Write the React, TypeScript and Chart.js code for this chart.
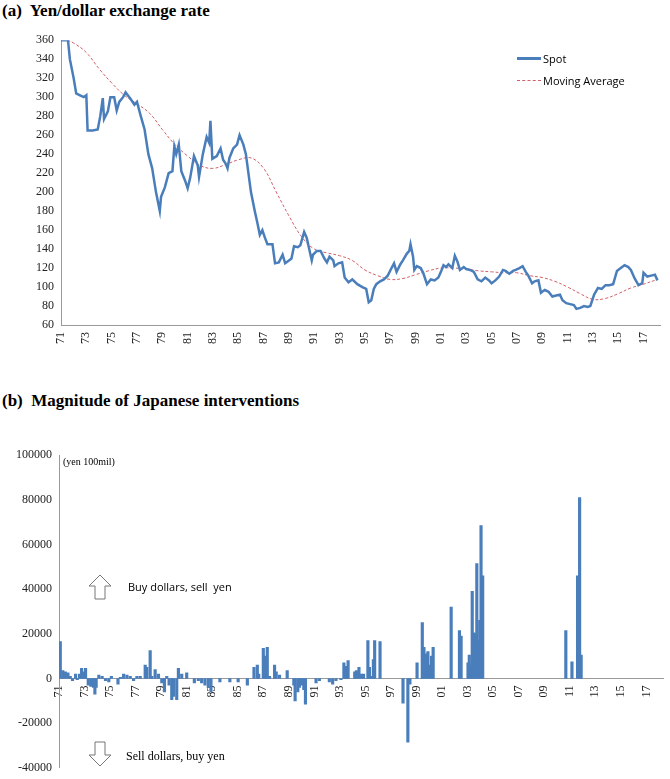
import React, { useEffect, useRef } from "react";
import { Chart, registerables } from "chart.js";
Chart.register(...registerables);

const tickYears = [1971,1973,1975,1977,1979,1981,1983,1985,1987,1989,1991,1993,1995,1997,1999,2001,2003,2005,2007,2009,2011,2013,2015,2017];

const spotYears = [1971.0,1971.55,1971.7,1972.0,1972.2,1972.5,1972.8,1973.0,1973.1,1973.5,1973.9,1974.1,1974.3,1974.4,1974.7,1974.9,1975.2,1975.4,1975.6,1975.9,1976.1,1976.5,1976.8,1977.0,1977.3,1977.6,1977.9,1978.2,1978.5,1978.8,1978.9,1979.2,1979.5,1979.8,1979.95,1980.1,1980.3,1980.5,1980.8,1981.0,1981.2,1981.5,1981.8,1981.9,1982.2,1982.5,1982.7,1982.8,1982.95,1983.3,1983.6,1983.8,1984.0,1984.15,1984.3,1984.6,1984.9,1985.1,1985.4,1985.6,1985.8,1986.0,1986.3,1986.5,1986.7,1986.9,1987.1,1987.3,1987.5,1987.7,1987.9,1988.2,1988.5,1988.7,1989.0,1989.2,1989.4,1989.7,1989.9,1990.2,1990.4,1990.6,1990.8,1990.9,1991.2,1991.5,1991.8,1992.0,1992.2,1992.5,1992.6,1992.9,1993.2,1993.4,1993.7,1994.0,1994.4,1994.8,1995.1,1995.3,1995.5,1995.7,1995.9,1996.2,1996.5,1996.8,1997.1,1997.3,1997.5,1997.8,1998.0,1998.3,1998.5,1998.6,1998.8,1998.9,1999.1,1999.4,1999.6,1999.9,2000.2,2000.5,2000.8,2001.0,2001.2,2001.4,2001.6,2001.9,2002.1,2002.3,2002.5,2002.8,2003.0,2003.3,2003.6,2003.9,2004.2,2004.5,2004.8,2005.0,2005.3,2005.6,2005.9,2006.1,2006.4,2006.7,2006.9,2007.2,2007.45,2007.7,2007.9,2008.2,2008.4,2008.7,2008.9,2009.2,2009.5,2009.8,2010.1,2010.4,2010.6,2010.9,2011.2,2011.5,2011.7,2012.0,2012.3,2012.6,2012.8,2013.1,2013.4,2013.7,2014.0,2014.3,2014.6,2014.9,2015.2,2015.5,2015.8,2016.0,2016.3,2016.6,2016.9,2017.0,2017.3,2017.6,2017.9,2018.1];
const spotValues = [360,360,340,320,304,302,300,302,265,265,266,280,299,277,285,300,300,286,295,300,305,298,292,295,280,266,240,225,200,180,195,205,220,222,248,240,250,222,212,204,215,238,228,216,240,258,252,275,235,238,246,234,230,225,236,246,250,260,250,240,220,200,180,168,155,160,152,145,145,145,125,126,134,125,128,130,143,142,144,158,152,140,128,134,138,138,130,126,132,128,122,125,126,110,105,108,103,100,98,84,86,98,103,106,108,112,120,125,116,124,128,135,138,145,132,118,122,120,115,103,108,107,110,116,123,121,124,120,133,127,118,121,119,118,116,108,106,110,107,104,107,111,118,117,114,117,118,120,122,116,112,104,106,107,94,97,95,90,91,92,86,83,82,81,77,78,80,79,80,92,99,98,102,102,103,117,120,123,121,118,109,102,104,115,111,112,113,107];

const maYears = [1971.5,1972,1973,1974,1975,1976,1977,1978,1979,1980,1981,1982,1983,1984,1985,1986,1987,1988,1989,1990,1991,1992,1993,1994,1995,1996,1997,1998,1999,2000,2001,2002,2003,2004,2005,2006,2007,2008,2009,2010,2011,2012,2013,2014,2015,2016,2017,2018.1];
const maValues = [360,357,347,330,315,302,293,283,266,250,238,228,225,229,234,236,225,200,175,153,140,136,133,128,118,112,108,109,113,117,120,120,119,117,116,115,115,112,110,106,100,93,87,88,93,99,103,108];

const barYears = [1971.1,1971.3,1971.5,1971.7,1971.88,1972.06,1972.3,1972.43,1972.61,1972.77,1972.95,1973.08,1973.29,1973.49,1973.7,1973.81,1973.91,1974.12,1974.38,1974.64,1974.9,1975.1,1975.62,1975.81,1976.06,1976.32,1976.58,1976.84,1977.1,1977.36,1977.75,1977.88,1978.14,1978.27,1978.53,1978.79,1979.05,1979.26,1979.44,1979.62,1979.83,1979.96,1980.22,1980.35,1980.61,1981.0,1981.6,1981.91,1982.17,1982.43,1982.69,1982.9,1983.6,1984.38,1985.03,1985.75,1986.27,1986.53,1986.64,1987.0,1987.16,1987.31,1987.49,1987.88,1988.01,1988.27,1988.87,1989.39,1989.49,1989.7,1989.83,1990.01,1990.17,1990.3,1991.13,1991.39,1992.17,1992.43,1992.69,1993.08,1993.31,1993.46,1993.64,1994.16,1994.29,1994.49,1994.67,1994.85,1995.19,1995.31,1995.5,1995.62,1995.72,1996.14,1997.94,1998.32,1998.48,1999.04,1999.45,1999.58,1999.74,1999.89,2000.04,2000.17,2000.3,2001.71,2002.36,2002.49,2003.03,2003.13,2003.23,2003.36,2003.49,2003.64,2003.72,2003.85,2003.95,2004.05,2004.18,2010.69,2011.17,2011.61,2011.77,2011.89];
const barValues = [16500,3500,3000,2500,1000,-1000,2000,-500,2000,4500,3000,4500,-3000,-3500,-4000,-7000,-4000,1500,1000,-1000,-1500,1000,-2500,500,2000,1500,1000,-1000,1000,1000,6000,5000,12500,1000,4000,2000,-2000,-6000,1000,-3000,-9500,-8000,-9500,4500,2000,2500,-2000,-1000,-2000,-3000,-4000,-6000,-1500,-1500,-1500,-3000,5000,6000,2000,13500,10000,14000,1000,6000,3000,1500,3500,-3000,-10000,-6000,-4000,-3000,-5000,-11500,-2000,-1000,-1500,-2500,-1000,-500,7000,5500,8000,3000,3500,5000,2000,2000,17000,5000,1000,8500,17000,16500,-11000,-28500,-2500,7000,25000,14000,11000,12000,6000,10000,14000,32000,21500,19000,7000,10500,6000,39000,20500,20000,51500,17000,26000,68500,46000,21500,7500,46000,81000,10500];

const serif = "'Liberation Serif', 'Times New Roman', serif";
const sans = "'Open Sans', 'Liberation Sans', sans-serif";
const BLUE = "#4a7ebb";

function xScale(extra: any) {
  return {
    type: "linear",
    min: 1971,
    max: 2018.3,
    grid: { display: false, drawTicks: true, tickLength: 4, color: "#999" },
    border: { color: "#999" },
    afterBuildTicks: (s: any) => { s.ticks = tickYears.map((v) => ({ value: v })); },
    ticks: {
      autoSkip: false,
      maxRotation: 90,
      minRotation: 90,
      color: "#222",
      font: { family: serif, size: 12 },
      callback: (v: any) => String(Math.round(v) % 100).padStart(2, "0"),
    },
    ...extra,
  };
}

export default function App() {
  const topRef = useRef<HTMLCanvasElement>(null);
  const botRef = useRef<HTMLCanvasElement>(null);
  useEffect(() => {
    document.body.style.margin = "0";
    const top = new Chart(topRef.current!, {
      type: "line",
      data: {
        datasets: [
          { label: "Spot", data: spotYears.map((x, i) => ({ x, y: spotValues[i] })), borderColor: BLUE, borderWidth: 2.5, pointRadius: 0, tension: 0 },
          { label: "Moving Average", data: maYears.map((x, i) => ({ x, y: maValues[i] })), borderColor: "#d0606a", borderWidth: 1, borderDash: [3, 2], pointRadius: 0, tension: 0.4 },
        ],
      },
      options: {
        animation: false, responsive: false, maintainAspectRatio: false,
        layout: { padding: { top: 9, right: 10, left: 0, bottom: 0 } },
        plugins: { legend: { display: false }, tooltip: { enabled: false } },
        scales: {
          x: xScale({ afterFit: (s: any) => { s.height = 25; } }),
          y: {
            min: 60, max: 360,
            afterFit: (s: any) => { s.width = 61; },
            grid: { display: false, drawTicks: true, tickLength: 4 },
            border: { color: "#999" },
            ticks: { stepSize: 20, color: "#222", font: { family: serif, size: 12 }, callback: (v: any) => String(v) },
          },
        },
      } as any,
    });
    const bot = new Chart(botRef.current!, {
      type: "bar",
      data: {
        datasets: [
          { data: barYears.map((x, i) => ({ x, y: barValues[i] })), backgroundColor: BLUE, barThickness: 2.5 },
        ],
      },
      options: {
        animation: false, responsive: false, maintainAspectRatio: false,
        layout: { padding: { top: 10, right: 7, left: 0, bottom: 10 } },
        plugins: { legend: { display: false }, tooltip: { enabled: false } },
        scales: {
          x: xScale({ position: { y: 0 }, offset: false }),
          y: {
            min: -40000, max: 100000,
            afterFit: (s: any) => { s.width = 59; },
            grid: { display: false, drawTicks: true, tickLength: 4 },
            border: { color: "#999" },
            ticks: { stepSize: 20000, color: "#222", font: { family: serif, size: 12 }, callback: (v: any) => String(v) },
          },
        },
      } as any,
    });
    return () => { top.destroy(); bot.destroy(); };
  }, []);

  const title: React.CSSProperties = { position: "absolute", fontFamily: serif, fontWeight: "bold", fontSize: 17, whiteSpace: "pre", color: "#000" };
  return (
    <div style={{ position: "relative", width: 670, height: 779, background: "#fff" }}>
      <div style={{ ...title, left: 2, top: 1 }}>(a)  Yen/dollar exchange rate</div>
      <canvas ref={topRef} width={670} height={320} style={{ position: "absolute", left: 0, top: 30, width: 670, height: 320 }} />
      <div style={{ position: "absolute", left: 517, top: 51, display: "flex", alignItems: "center", fontFamily: sans, fontSize: 11 }}>
        <div style={{ width: 24, height: 2.5, background: BLUE, marginRight: 2 }} />Spot
      </div>
      <div style={{ position: "absolute", left: 517, top: 73, display: "flex", alignItems: "center", fontFamily: sans, fontSize: 11 }}>
        <div style={{ width: 24, borderTop: "1px dashed #d0606a", marginRight: 2 }} />Moving Average
      </div>
      <div style={{ ...title, left: 2, top: 391 }}>(b)  Magnitude of Japanese interventions</div>
      <canvas ref={botRef} width={670} height={333} style={{ position: "absolute", left: 0, top: 445, width: 670, height: 333 }} />
      <div style={{ position: "absolute", left: 63, top: 456, fontFamily: serif, fontSize: 10 }}>(yen 100mil)</div>
      <svg style={{ position: "absolute", left: 88, top: 574 }} width={24} height={26}>
        <polygon points="12,1 23,12 17,12 17,25 7,25 7,12 1,12" fill="#fff" stroke="#777" strokeWidth={1} />
      </svg>
      <div style={{ position: "absolute", left: 128, top: 579, fontFamily: sans, fontSize: 11, whiteSpace: "pre" }}>Buy dollars, sell  yen</div>
      <svg style={{ position: "absolute", left: 88, top: 741 }} width={24} height={26}>
        <polygon points="7,1 17,1 17,14 23,14 12,25 1,14 7,14" fill="#fff" stroke="#777" strokeWidth={1} />
      </svg>
      <div style={{ position: "absolute", left: 126, top: 749, fontFamily: serif, fontSize: 12 }}>Sell dollars, buy yen</div>
    </div>
  );
}
